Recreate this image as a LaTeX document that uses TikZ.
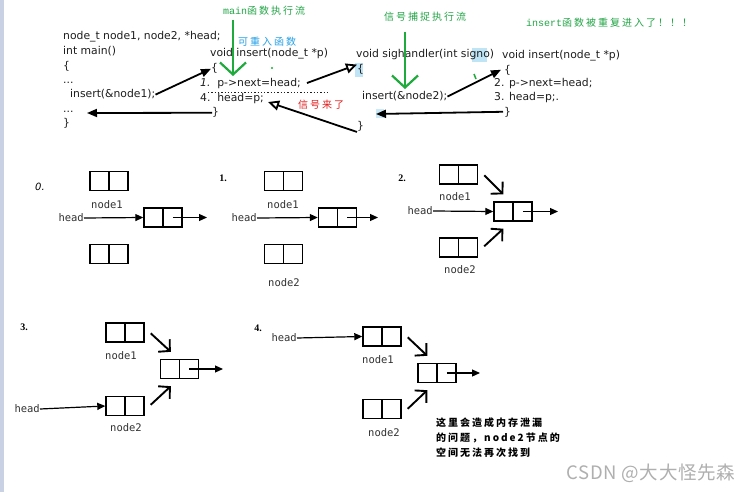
\documentclass[tikz,border=0pt]{standalone}
\usepackage{fontspec}
\setmainfont{DejaVu Sans}
\newfontfamily\codefont{DejaVu Sans}
\newfontfamily\monofont{DejaVu Sans Mono}
\newfontfamily\cjkfont[LetterSpace=20]{Noto Sans CJK SC}
\newfontfamily\cjkplain[LetterSpace=4]{Noto Sans CJK SC}
\newfontfamily\latmono{Liberation Mono}
\newfontfamily\serifnum{Liberation Serif}
\usetikzlibrary{arrows.meta,calc}
\definecolor{gtext}{RGB}{34,165,70}
\definecolor{garr}{RGB}{30,170,60}
\definecolor{btext}{RGB}{35,160,230}
\definecolor{rtext}{RGB}{225,30,30}
\definecolor{strip}{RGB}{200,210,228}
\definecolor{hlblue}{RGB}{190,228,245}
\definecolor{codecol}{RGB}{30,30,30}
\definecolor{lblcol}{RGB}{50,50,50}
\definecolor{wmark}{RGB}{175,175,175}
\begin{document}
\begin{tikzpicture}[x=1pt,y=-1pt,
  code/.style={anchor=base west, inner sep=0pt, text=codecol, font=\codefont\fontsize{10.8}{13}\selectfont},
  lbl/.style={inner sep=0pt, text=lblcol, font=\monofont\fontsize{10.5}{12}\selectfont},
  stagenum/.style={inner sep=0pt, font=\serifnum\bfseries\fontsize{10}{12}\selectfont},
  cjk/.style={anchor=west, inner sep=0pt, font=\cjkfont\fontsize{10}{12}\selectfont},
  cell/.style={draw, line width=1.4pt, minimum width=38pt, minimum height=19pt, inner sep=0pt,
    path picture={\draw[line width=1.4pt] (path picture bounding box.north) -- (path picture bounding box.south);}},
  harrow/.style={line width=1.2pt, -{Triangle[length=8pt,width=7pt]}},
  carrow/.style={line width=1.8pt, -{Triangle[length=10pt,width=8pt]}},
  oarrow/.style={line width=1.8pt, -{Triangle[open,length=11pt,width=10pt]}},
  diag/.style={line width=1.9pt, -{Straight Barb[length=8pt,width=17pt]}},
  garrow/.style={draw=garr, line width=2.2pt, -{Straight Barb[length=12pt,width=26pt]}}
]
\useasboundingbox (0,0) rectangle (752,492);
\fill[white] (0,0) rectangle (752,492);
\fill[strip] (0,0) rectangle (4,492);

% highlights
\fill[hlblue] (472,48) rectangle (487,62);
\fill[hlblue] (355,63) rectangle (363,77);
\fill[hlblue!80] (376,109) rectangle (384,118);

% ---------- top code ----------
\node[code] (c1) at (63,40) {node\_t node1, node2, *head;};
\node[code] (c2) at (63,55) {int main()};
\node[code] (c3) at (63,70) {\{};
\node[code] (c4) at (63,84) {...};
\node[code] (c5) at (70,98) {insert(\&node1);};
\node[code] (c6) at (63,113) {...};
\node[code] (c7) at (63,127) {\}};

\node[code] (i1) at (210,57) {void insert(node\_t *p)};
\node[code] (i2) at (211,72) {\{};
\node[code] (i3) at (200,87) {{\itshape 1.}\ \ p->next=head;};
\node[code] (i4) at (200,102) {4.\ \ head=p;};
\node[code] (i5) at (212,116) {\}};
\draw[dotted, line width=1.3pt, codecol] (208,92.5) -- (330,92.5);

\node[code] (s1) at (356,58) {void sighandler(int signo)};
\node[code] (s2) at (357,73) {\{};
\node[code] (s3) at (362,100) {insert(\&node2);};
\node[code] (s4) at (357,130) {\}};

\node[code] (j1) at (502,59) {void insert(node\_t *p)};
\node[code] (j2) at (504,74) {\{};
\node[code] (j3) at (494,87) {2. p->next=head;};
\node[code] (j4) at (494,101) {3. head=p;.};
\node[code] (j5) at (504,116) {\}};

% colored annotations
\node[cjk, text=gtext] (gm) at (223,11) {{\latmono main}函数执行流};
\node[cjk, text=btext] (kc) at (238,42) {可重入函数};
\node[cjk, text=rtext] (xh) at (298,105) {信号来了};
\node[cjk, text=gtext] (gs) at (384,17) {信号捕捉执行流};
\node[cjk, text=gtext] (gi) at (526,23) {{\latmono insert}函数被重复进入了！！！};

\coordinate (g1a) at (233,20);
\coordinate (g1b) at (233,76);
\coordinate (g2a) at (405,32);
\coordinate (g2b) at (405,89);
\draw[garrow] (g1a) -- (g1b);
\draw[garrow] (g2a) -- (g2b);
\fill[garr] (272,68) circle (1.2pt);
\draw[garr, line width=1.5pt] (474,74) -- (476,79);

% code arrows
\coordinate (r1) at (87,113);
\coordinate (r2) at (376,114);
\draw[carrow] (c5.east) -- (i2.west);
\draw[carrow] (i5.west) -- (r1);
\draw[oarrow] ($(i3.east)+(6,-1)$) -- (s2.north west);
\draw[oarrow] (s4.south west) -- ($(i4.east)+(4,3)$);
\draw[carrow] (s3.east) -- ($(j2.west)+(-3,-1)$);
\draw[carrow] ($(j5.west)+(-1,-1)$) -- (r2);

% ---------- stage 0 ----------
\node[inner sep=0pt, font=\codefont\itshape\fontsize{10}{12}\selectfont] (n0) at (40,187) {0.};
\node[cell] (s0n1) at (109,181) {};
\node[cell] (s0m) at (163,217.5) {};
\node[cell] (s0n2) at (109,254) {};
\node[lbl] (s0l1) at (107,205) {node1};
\node[lbl, anchor=east] (s0h) at (84,218) {head};
\coordinate (s0o) at (207,217.5);
\draw[harrow] (s0h.east) -- (s0m.west);
\draw[harrow] ($(s0m.center)!0.5!(s0m.east)$) -- (s0o);

% ---------- stage 1 ----------
\node[stagenum] (n1) at (223,178) {1.};
\node[cell] (s1n1) at (283.5,181) {};
\node[cell] (s1m) at (337.5,217.5) {};
\node[cell] (s1n2) at (283.5,254) {};
\node[lbl] (s1l1) at (283,205) {node1};
\node[lbl] (s1l2) at (284,283) {node2};
\node[lbl, anchor=east] (s1h) at (257,218) {head};
\coordinate (s1o) at (378,217.5);
\draw[harrow] (s1h.east) -- (s1m.west);
\draw[harrow] ($(s1m.center)!0.5!(s1m.east)$) -- (s1o);

% ---------- stage 2 ----------
\node[stagenum] (n2) at (402,178) {2.};
\node[cell] (s2n1) at (458.5,174.5) {};
\node[cell] (s2m) at (513,211.5) {};
\node[cell] (s2n2) at (458.5,247.5) {};
\node[lbl] (s2l1) at (455,197) {node1};
\node[lbl] (s2l2) at (460,270) {node2};
\node[lbl, anchor=east] (s2h) at (433,211) {head};
\coordinate (s2o) at (558,211.5);
\draw[harrow] (s2h.east) -- (s2m.west);
\draw[harrow] ($(s2m.center)!0.5!(s2m.east)$) -- (s2o);
\draw[diag] ($(s2n1.north east)+(6,11)$) -- ($(s2m.north west)+(10,-7)$);
\draw[diag] ($(s2n2.north east)+(6,9)$) -- ($(s2m.south west)+(10,7)$);

% ---------- stage 3 ----------
\node[stagenum] (n3) at (24,327) {3.};
\node[cell] (s3n1) at (125,332.5) {};
\node[cell] (s3m) at (179.5,369) {};
\node[cell] (s3n2) at (125,406) {};
\node[lbl] (s3l1) at (121,356) {node1};
\node[lbl] (s3l2) at (126,428) {node2};
\node[lbl, anchor=east] (s3h) at (40,409) {head};
\coordinate (s3o) at (223,369);
\draw[harrow] (s3h.east) -- (s3n2.west);
\draw[harrow] ($(s3m.center)!0.5!(s3m.east)$) -- (s3o);
\draw[diag] ($(s3n1.north east)+(6,11)$) -- ($(s3m.north west)+(11,-7)$);
\draw[diag] ($(s3n2.north east)+(6,9)$) -- ($(s3m.south west)+(11,7)$);

% ---------- stage 4 ----------
\node[stagenum] (n4) at (258,328) {4.};
\node[cell] (s4n1) at (382,336.5) {};
\node[cell] (s4m) at (437,373) {};
\node[cell] (s4n2) at (382,409) {};
\node[lbl] (s4l1) at (378,360) {node1};
\node[lbl] (s4l2) at (384,433) {node2};
\node[lbl, anchor=east] (s4h) at (297,338) {head};
\coordinate (s4o) at (480,373);
\draw[harrow] (s4h.east) -- (s4n1.west);
\draw[harrow] ($(s4m.center)!0.5!(s4m.east)$) -- (s4o);
\draw[diag] ($(s4n1.north east)+(6,11)$) -- ($(s4m.north west)+(10,-7)$);
\draw[diag] ($(s4n2.north east)+(6,10)$) -- ($(s4m.south west)+(10,7)$);

% note
\node[cjk, font=\cjkfont\bfseries\fontsize{10}{12}\selectfont] (t1) at (436,423) {这里会造成内存泄漏};
\node[cjk, font=\cjkfont\bfseries\fontsize{10}{12}\selectfont] (t2) at (436,438) {的问题，node2节点的};
\node[cjk, font=\cjkfont\bfseries\fontsize{10}{12}\selectfont] (t3) at (436,453) {空间无法再次找到};

% watermark
\node[anchor=west, inner sep=0pt, text=wmark, font=\cjkplain\fontsize{18.5}{22}\selectfont] (wm) at (566,473) {CSDN @大大怪先森};
\end{tikzpicture}
\end{document}
